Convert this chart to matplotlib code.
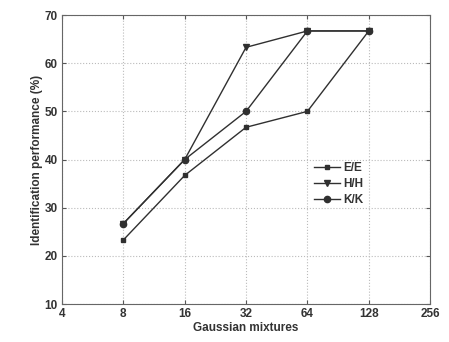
import matplotlib.pyplot as plt

plt.rcParams['font.family'] = ['Liberation Sans', 'DejaVu Sans']
plt.rcParams['font.weight'] = 'bold'

mixtures = [8, 16, 32, 64, 128]
ee = [23.3, 36.7, 46.7, 50.0, 66.7]
hh = [26.7, 40.0, 63.3, 66.7, 66.7]
kk = [26.7, 40.0, 50.0, 66.7, 66.7]
xticks = [4, 8, 16, 32, 64, 128, 256]
yticks = [10, 20, 30, 40, 50, 60, 70]

fig = plt.figure(figsize=(4.49, 3.42), dpi=100)
ax = fig.add_axes([0.138, 0.111, 0.82, 0.845])

line_color = '#303030'
ax.plot(mixtures, ee, '-s', color=line_color, lw=1.0, ms=3.5, label='E/E')
ax.plot(mixtures, hh, '-v', color=line_color, lw=1.0, ms=4, label='H/H')
ax.plot(mixtures, kk, '-o', color=line_color, lw=1.0, ms=4.5, label='K/K')

ax.set_xscale('log', base=2)
ax.set_xlim(4, 256)
ax.set_ylim(10, 70)
ax.set_xticks(xticks)
ax.set_xticklabels([str(t) for t in xticks])
ax.set_yticks(yticks)
ax.minorticks_off()
ax.tick_params(direction='in', top=True, right=True, labelsize=8.5, length=3,
               color='#555555', pad=3)
for lab in ax.get_xticklabels() + ax.get_yticklabels():
    lab.set_fontweight('bold')
    lab.set_color('#333333')

ax.grid(True, linestyle=':', color='#bbbbbb', lw=0.8)
for sp in ax.spines.values():
    sp.set_color('#666666')
    sp.set_linewidth(0.8)

ax.set_xlabel('Gaussian mixtures', fontsize=8.5, fontweight='bold',
              color='#333333', labelpad=1)
ax.set_ylabel('Identification performance (%)', fontsize=8.5,
              fontweight='bold', color='#333333', labelpad=1)

leg = ax.legend(loc='center left', bbox_to_anchor=(0.655, 0.415),
                frameon=False, fontsize=8.5, handlelength=2.2,
                labelspacing=0.35, handletextpad=0.3)
for t in leg.get_texts():
    t.set_fontweight('bold')
    t.set_color('#333333')

fig.savefig('out.png', dpi=100)
